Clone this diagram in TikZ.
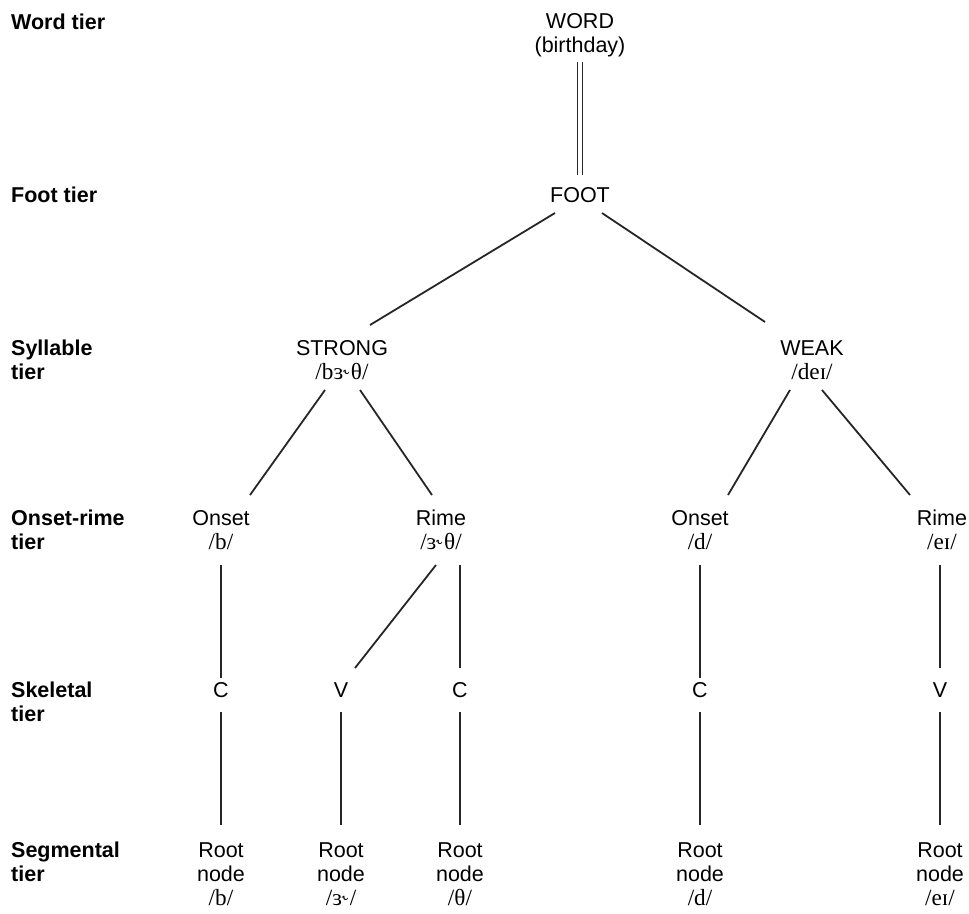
\documentclass[tikz,border=0pt]{standalone}
\usepackage{fontspec}
\setmainfont{Liberation Sans}
\newfontfamily\ipa{Liberation Serif}[Scale=1.08]
\begin{document}
\begin{tikzpicture}[x=1pt,y=-1pt,
  every node/.style={font=\fontsize{21.5}{24}\selectfont, inner sep=2pt, align=center},
  tier/.style={font=\fontsize{21.5}{24}\selectfont\bfseries, anchor=west, align=left},
  conn/.style={line width=1.8pt, black!85}]
\useasboundingbox (0,0) rectangle (969,913);
% tier labels
\node[tier] (t1) at (9,22) {Word tier};
\node[tier] (t2) at (9,195) {Foot tier};
\node[tier] (t3) at (9,360) {Syllable\\tier};
\node[tier] (t4) at (9,530) {Onset-rime\\tier};
\node[tier] (t5) at (9,702) {Skeletal\\tier};
\node[tier] (t6) at (9,862) {Segmental\\tier};
% tree
\node (word) at (580,35) {WORD\\(birthday)};
\node (foot) at (580,195) {FOOT};
\node (strong) at (342,360) {STRONG\\{\ipa /bɜ˞θ/}};
\node (weak) at (812,360) {WEAK\\{\ipa /deɪ/}};
\node (on1) at (221,530) {Onset\\{\ipa /b/}};
\node (ri1) at (441,530) {Rime\\{\ipa /ɜ˞θ/}};
\node (on2) at (700,530) {Onset\\{\ipa /d/}};
\node (ri2) at (942,530) {Rime\\{\ipa /eɪ/}};
\node (c1) at (221,690) {C};
\node (v1) at (341,690) {V};
\node (c2) at (460,690) {C};
\node (c3) at (700,690) {C};
\node (v2) at (940,690) {V};
\node (r1) at (221,874) {Root\\node\\{\ipa /b/}};
\node (r2) at (341,874) {Root\\node\\{\ipa /ɜ˞/}};
\node (r3) at (460,874) {Root\\node\\{\ipa /θ/}};
\node (r4) at (700,874) {Root\\node\\{\ipa /d/}};
\node (r5) at (940,874) {Root\\node\\{\ipa /eɪ/}};
% connectors
\draw[conn] ([shift={(-2.5,27)}]word.center) -- ([shift={(-2.5,-20)}]foot.center);
\draw[conn] ([shift={(2.5,27)}]word.center) -- ([shift={(2.5,-20)}]foot.center);
\draw[conn] ([shift={(-25,18)}]foot.center) -- ([shift={(28,-35)}]strong.center);
\draw[conn] ([shift={(22,18)}]foot.center) -- ([shift={(-47,-38)}]weak.center);
\draw[conn] ([shift={(-17,30)}]strong.center) -- ([shift={(29,-35)}]on1.center);
\draw[conn] ([shift={(18,30)}]strong.center) -- ([shift={(-9,-35)}]ri1.center);
\draw[conn] ([shift={(-22,30)}]weak.center) -- ([shift={(28,-35)}]on2.center);
\draw[conn] ([shift={(10,30)}]weak.center) -- ([shift={(-32,-35)}]ri2.center);
\draw[conn] ([shift={(0,35)}]on1.center) -- ([shift={(0,-12)}]c1.center);
\draw[conn] ([shift={(-5,35)}]ri1.center) -- ([shift={(14,-22)}]v1.center);
\draw[conn] ([shift={(19,35)}]ri1.center) -- ([shift={(0,-22)}]c2.center);
\draw[conn] ([shift={(0,35)}]on2.center) -- ([shift={(0,-12)}]c3.center);
\draw[conn] ([shift={(-2,35)}]ri2.center) -- ([shift={(0,-22)}]v2.center);
\draw[conn] ([shift={(0,22)}]c1.center) -- ([shift={(0,-49)}]r1.center);
\draw[conn] ([shift={(0,22)}]v1.center) -- ([shift={(0,-49)}]r2.center);
\draw[conn] ([shift={(0,22)}]c2.center) -- ([shift={(0,-49)}]r3.center);
\draw[conn] ([shift={(0,22)}]c3.center) -- ([shift={(0,-49)}]r4.center);
\draw[conn] ([shift={(0,22)}]v2.center) -- ([shift={(0,-49)}]r5.center);
\end{tikzpicture}
\end{document}
